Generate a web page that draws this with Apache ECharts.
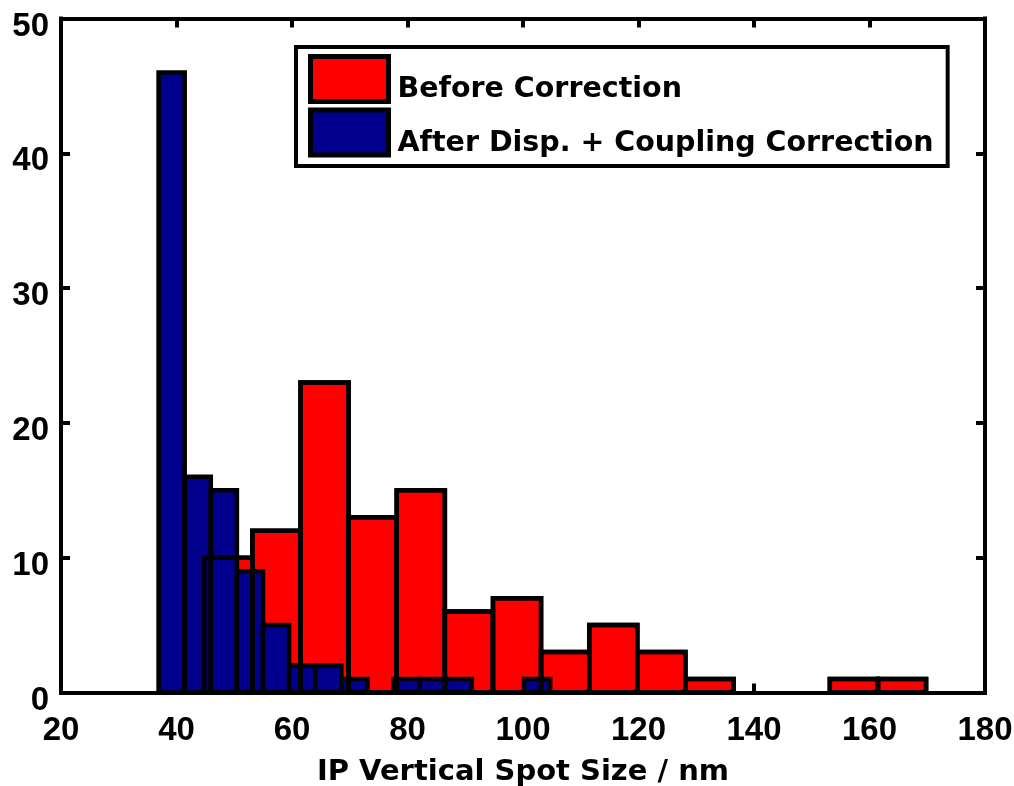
<!DOCTYPE html>
<html>
<head>
<meta charset="utf-8">
<script src="https://cdn.jsdelivr.net/npm/echarts@6/dist/echarts.min.js"></script>
<style>
html,body{margin:0;padding:0;background:#fff;}
#chart{width:1014px;height:786px;}
</style>
</head>
<body>
<div id="chart"></div>
<script>
// Histogram bin edges (nm) and counts
const beforeEdges = [44.8, 53.13, 61.47, 69.8, 78.13, 86.47, 94.8, 103.13, 111.47, 119.8, 128.13, 136.47, 144.8, 153.13, 161.47, 169.8];
const beforeCounts = [10, 12, 23, 13, 15, 6, 7, 3, 5, 3, 1, 0, 0, 1, 1];
const afterEdges = [36.9, 41.42, 45.94, 50.46, 54.98, 59.5, 64.02, 68.54, 73.06, 77.58, 82.1, 86.62, 91.14, 95.66, 100.18, 104.7];
const afterCounts = [46, 16, 15, 9, 5, 2, 2, 1, 0, 1, 1, 1, 0, 0, 1];
const seriesNames = ['Before Correction', 'After Disp. + Coupling Correction'];
const xTitle = 'IP Vertical Spot Size / nm';

const RED = '#ff0000';
const BLUE = '#00008c';
const EDGE = 4.5;

function toBins(edges, counts) {
  const out = [];
  for (let i = 0; i < counts.length; i++) {
    if (counts[i] > 0) out.push([edges[i], edges[i + 1], counts[i]]);
  }
  return out;
}

function barRenderer(fill) {
  return function (params, api) {
    const p0 = api.coord([api.value(0), api.value(2)]);
    const p1 = api.coord([api.value(1), 0]);
    return {
      type: 'rect',
      shape: { x: p0[0], y: p0[1], width: p1[0] - p0[0], height: p1[1] - p0[1] },
      style: { fill: fill, stroke: '#000', lineWidth: EDGE, lineJoin: 'miter' }
    };
  };
}

const tickFont = { fontFamily: 'Liberation Sans', fontWeight: 'bold', fontSize: 33, color: '#000' };
const legendFont = { fontFamily: 'DejaVu Sans', fontWeight: 'bold', fontSize: 28.5, color: '#000' };
const axisLineStyle = { color: '#000', width: 4, cap: 'square' };
const tickStyle = { show: true, inside: true, length: 9, lineStyle: { color: '#000', width: 4 } };

const chart = echarts.init(document.getElementById('chart'), null, { renderer: 'canvas' });
chart.setOption({
  animation: false,
  backgroundColor: '#fff',
  grid: { left: 61, right: 29, top: 18.5, bottom: 93.5, containLabel: false, outerBoundsMode: 'none' },
  legend: {
    orient: 'vertical',
    left: 296,
    top: 47,
    padding: [7, 14, 8, 12],
    itemWidth: 78,
    itemHeight: 45,
    itemGap: 3,
    icon: 'rect',
    borderColor: '#000',
    borderWidth: 4,
    backgroundColor: '#fff',
    selectedMode: false,
    formatter: '{t|{name}}',
    textStyle: Object.assign({
      rich: { t: Object.assign({ padding: [22, 0, 0, 4] }, legendFont) }
    }, legendFont),
    data: [
      { name: seriesNames[0], itemStyle: { color: RED, borderColor: '#000', borderWidth: 5 } },
      { name: seriesNames[1], itemStyle: { color: BLUE, borderColor: '#000', borderWidth: 5 } }
    ]
  },
  xAxis: [
    {
      type: 'value', min: 20, max: 180, interval: 20, position: 'bottom',
      axisLine: { show: true, onZero: false, lineStyle: axisLineStyle },
      axisTick: tickStyle,
      axisLabel: Object.assign({ margin: 22 }, tickFont),
      splitLine: { show: false },
      name: xTitle, nameLocation: 'middle', nameGap: 65,
      nameTextStyle: { fontFamily: 'DejaVu Sans', fontWeight: 'bold', fontSize: 29, color: '#000' }
    },
    {
      type: 'value', min: 20, max: 180, interval: 20, position: 'top',
      axisLine: { show: true, onZero: false, lineStyle: axisLineStyle },
      axisTick: tickStyle,
      axisLabel: { show: false },
      splitLine: { show: false }
    }
  ],
  yAxis: [
    {
      type: 'value', min: 0, max: 50, interval: 10, position: 'left',
      axisLine: { show: true, onZero: false, lineStyle: axisLineStyle },
      axisTick: tickStyle,
      axisLabel: {
        margin: 12,
        formatter: '{v|{value}}',
        rich: { v: Object.assign({ padding: [16, 0, 0, 0] }, tickFont) }
      },
      splitLine: { show: false }
    },
    {
      type: 'value', min: 0, max: 50, interval: 10, position: 'right',
      axisLine: { show: true, onZero: false, lineStyle: axisLineStyle },
      axisTick: tickStyle,
      axisLabel: { show: false },
      splitLine: { show: false }
    }
  ],
  series: [
    {
      name: seriesNames[0], type: 'custom', xAxisIndex: 0, yAxisIndex: 0,
      itemStyle: { color: RED },
      renderItem: barRenderer(RED),
      data: toBins(beforeEdges, beforeCounts),
      z: 2
    },
    {
      name: seriesNames[1], type: 'custom', xAxisIndex: 0, yAxisIndex: 0,
      itemStyle: { color: BLUE },
      renderItem: barRenderer(BLUE),
      data: toBins(afterEdges, afterCounts),
      z: 3
    },
    {
      name: 'outline', type: 'custom', xAxisIndex: 0, yAxisIndex: 0,
      itemStyle: { color: 'none' },
      renderItem: barRenderer('none'),
      data: toBins(beforeEdges, beforeCounts),
      silent: true,
      z: 4
    }
  ]
});
</script>
</body>
</html>
